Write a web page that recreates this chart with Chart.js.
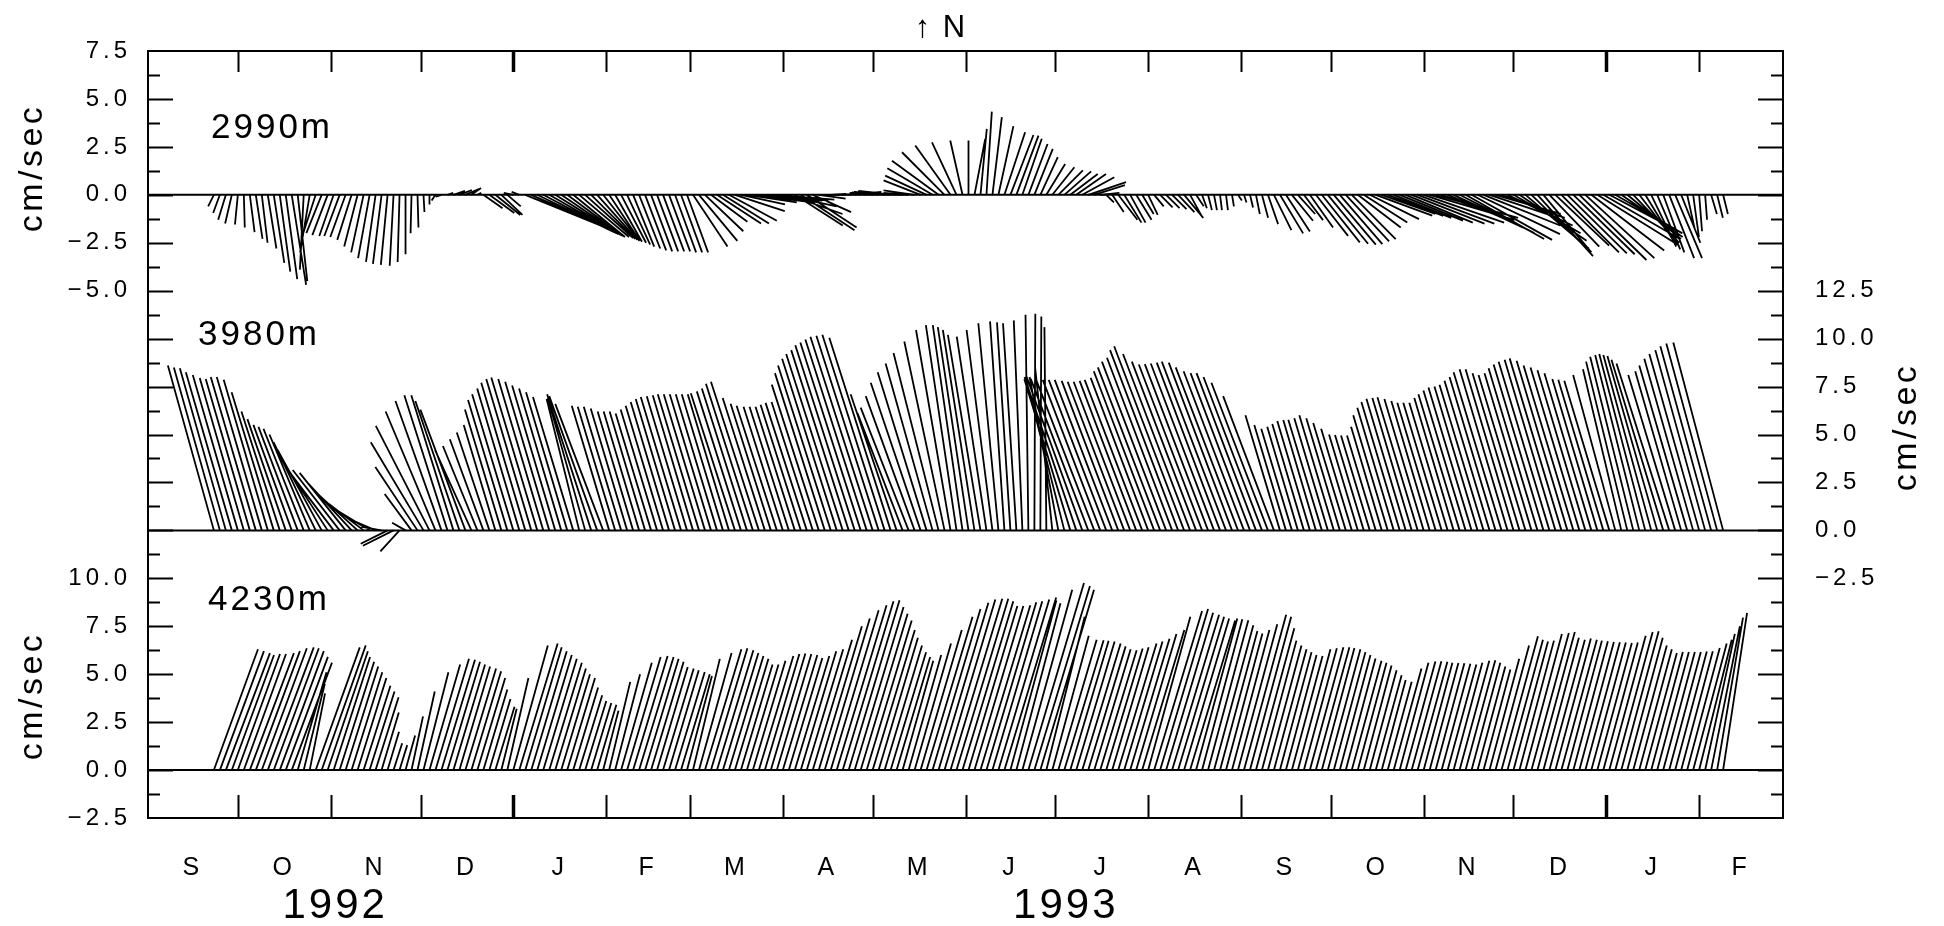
<!DOCTYPE html>
<html>
<head>
<meta charset="utf-8">
<script src="https://cdn.jsdelivr.net/npm/chart.js@4.4.1/dist/chart.umd.min.js"></script>
<style>
  html, body { margin: 0; padding: 0; background: #fff; }
  canvas { display: block; }
</style>
</head>
<body>
<canvas id="chart" width="1944" height="926"></canvas>
<script>
// time axis: days since 1 Sep 1992, one stick every 2 days from 23 Sep 1992
const FIRST_DAY = 22;
const STEP_DAYS = 2;
const AXIS_DAYS = 546; // 1 Sep 1992 .. 1 Mar 1994

// 2990m record, east (u) and north (v) components, cm/s
const u2990 = [
  -0.3,-0.35,-0.4,-0.35,-0.15,0.05,0.25,0.35,0.3,0.45,0.55,0.55,0.6,0.75,0.5,
  -0.2,-0.5,-0.75,-0.8,-0.8,-0.75,-0.8,
  -0.8,-0.75,-0.7,-0.65,-0.6,-0.5,-0.45,-0.35,-0.2,
  -0.1,0.0,-0.05,0.05,0.05,0.0,-0.2,-0.3,0.3,0.6,0.65,
  0.7,0.5,0.2,1.0,1.3,1.3,1.1,0.7,-0.5,-0.4,
  4.3,4.1,3.9,3.7,3.5,3.3,3.1,2.9,2.7,2.6,
  2.5,2.3,2.1,1.9,1.6,1.4,1.3,1.2,1.1,1.1,1.1,1.1,1.1,1.1,1.1,
  1.1,1.1,1.1,
  1.8,2.0,2.0,1.9,2.3,2.4,2.5,2.6,2.3,2.6,2.8,2.9,
  3.0,3.0,3.0,2.8,2.8,2.5,2.8,2.6,2.0,1.4,1.0,
  0.8,1.2,1.5,1.7,0.5,-0.3,-0.8,-1.2,-1.4,
  -1.6,-1.9,-2.0,-1.6,
  -1.3,-1.62,-1.93,-2.16,-2.36,-2.43,-2.22,-1.84,-1.28,-0.64,0.0,0.56,0.33,0.28,0.49,0.78,1.08,1.2,1.15,1.01,1.0,
  0.96,0.91,0.98,1.15,1.28,1.4,1.43,1.55,1.67,1.97,
  1.6,1.0,0.4,0.6,1.0,0.9,0.8,0.8,0.6,0.5,0.5,0.65,0.7,
  0.75,0.85,1.0,0.6,0.4,0.25,0.2,0.15,0.1,0.1,0.1,
  0.2,0.13,0.16,0.2,0.32,0.53,0.91,1.21,1.25,1.1,0.9,1.0,1.21,1.68,1.98,2.1,
  2.19,2.22,2.26,2.29,2.24,2.27,2.57,2.95,
  2.8,2.9,3.0,3.3,3.5,3.8,4.0,4.2,4.4,4.3,3.8,3.7,
  3.6,3.9,4.1,4.2,4.3,4.0,3.6,3.4,3.3,3.4,3.5,3.5,3.3,3.1,2.9,2.5,2.6,2.8,3.0,3.1,
  3.2,3.5,3.6,3.8,4.2,4.0,3.8,3.5,3.2,2.8,2.4,2.0,1.6,1.3,1.2,
  1.1,1.3,1.4,1.0,0.4,0.3,0.15,0.1,0.3,0.3,0.25
];
const v2990 = [
  -0.6,-0.95,-1.3,-1.5,-1.55,-1.7,-1.95,-2.3,-2.5,-2.8,-3.55,-4.0,-4.4,-4.7,-4.5,
  -3.9,-3.0,-2.3,-2.0,-2.1,-2.15,-2.15,
  -2.2,-2.35,-2.7,-3.0,-3.3,-3.5,-3.6,-3.65,-3.7,
  -3.5,-3.1,-2.0,-1.7,-0.9,-0.5,-0.3,-0.1,0.1,0.2,0.25,
  0.3,0.35,0.1,-0.7,-0.95,-1.05,-1.05,-0.6,0.1,0.15,
  -1.75,-1.8,-1.9,-1.95,-2.0,-2.05,-2.1,-2.15,-2.2,-2.2,
  -2.25,-2.3,-2.35,-2.4,-2.4,-2.45,-2.5,-2.6,-2.7,-2.8,-2.9,-2.95,-2.95,-2.95,-2.95,
  -3.0,-3.0,-3.0,
  -2.7,-2.4,-1.9,-1.4,-1.5,-1.5,-1.35,-0.85,-0.5,-0.4,-0.35,-0.3,
  -0.3,-0.3,-0.25,-0.6,-1.0,-1.6,-1.85,-1.7,-0.9,-0.2,0.0,
  0.05,0.05,0.1,0.15,0.1,0.05,0.1,0.1,0.12,
  0.15,0.15,0.2,0.1,
  0.1,0.23,0.75,1.0,1.39,1.78,2.22,2.57,2.74,2.83,2.83,2.92,3.44,4.34,4.05,3.58,3.26,3.12,3.09,2.92,2.65,
  2.4,1.96,1.61,1.44,1.27,1.22,1.09,1.09,0.92,0.66,
  0.5,0.1,-0.4,-0.9,-1.3,-1.45,-1.45,-1.3,-1.0,-1.05,-0.6,-0.65,-0.7,
  -0.75,-0.9,-1.2,-1.1,-0.6,-0.7,-0.8,-0.8,-0.8,-0.8,-0.6,
  -0.3,-0.4,-0.66,-1.0,-1.2,-1.53,-1.84,-2.01,-1.91,-1.35,-1.0,-1.32,-1.7,-2.14,-2.48,-2.55,
  -2.6,-2.57,-2.43,-2.31,-1.7,-1.44,-1.27,-1.09,
  -1.0,-1.1,-1.2,-1.35,-1.45,-1.5,-1.5,-1.45,-1.3,-1.2,-1.4,-1.55,
  -1.7,-2.0,-2.3,-2.35,-2.05,-1.6,-1.2,-1.0,-1.2,-1.6,-2.0,-2.4,-2.8,-3.0,-3.2,-3.0,-2.7,-2.65,-3.0,-3.05,
  -3.1,-3.4,-3.3,-2.9,-2.6,-2.3,-2.0,-2.0,-2.2,-2.3,-2.5,-2.6,-2.6,-2.7,-2.85,
  -3.0,-3.3,-3.3,-2.5,-1.8,-2.2,-1.9,-1.3,-1.0,-1.2,-1.0
];

// 3980m record
const u3980 = [
  -2.4,-2.4,-2.4,-2.4,-2.35,-2.3,-2.3,-2.35,-2.35,-2.3,
  -2.2,-2.0,-2.0,-2.0,-2.05,-2.1,-2.1,-2.2,-2.3,-2.4,-2.5,-2.45,
  -2.4,-2.4,-2.3,-2.1,-1.8,-1.4,-1.1,-1.4,-1.6,-1.0,-0.7,
  -1.4,-2.2,-2.75,-2.8,-2.6,-2.4,-2.25,-2.2,-2.3,-2.35,-1.9,-1.8,-1.75,-1.7,
  -1.65,-1.9,-2.05,-2.15,-2.2,-2.3,-2.35,-2.4,-2.35,-2.3,-2.25,-2.2,-2.15,-2.1,-1.7,-1.95,-2.3,-2.5,-2.5,-1.95,-1.95,
  -1.95,-1.9,-1.85,-1.85,-1.85,-1.85,-1.9,-1.95,-2.0,-2.05,-2.1,-2.1,-2.1,-2.15,-2.15,
  -2.15,-2.15,-2.15,-2.15,
  -2.3,-2.3,-2.35,-2.45,-2.5,-2.2,-2.1,-2.1,-2.05,-2.05,
  -2.05,-2.1,-2.15,-2.15,-2.45,-2.6,-2.75,-2.85,-2.95,-3.0,-3.1,-3.15,-3.2,-3.25,-3.25,-3.25,-3.2,
  -2.4,-2.35,-2.5,-2.55,-2.6,-2.55,-2.45,-2.35,-2.1,-1.8,-1.6,-1.55,-1.6,
  -1.65,-1.7,-1.55,-1.35,-1.05,-0.75,-0.7,-0.7,-0.45,-0.15,0.05,0.05,-0.1,
  -0.9,-1.5,-2.0,-2.4,-2.7,-2.9,-3.0,-3.05,-3.0,-3.0,-3.0,-2.95,-2.95,-2.95,
  -2.95,-3.0,-3.0,-3.15,-3.25,-3.35,-3.4,-3.55,-3.65,-3.5,-3.35,-3.3,-3.3,-3.3,-3.3,-3.35,-3.3,-3.25,-3.15,-3.1,-3.1,-3.05,-2.95,-2.65,
  -1.8,-1.65,-1.6,-1.6,-1.65,-1.7,-1.7,-1.75,-1.75,-1.8,-1.75,-1.7,-1.6,-1.5,-1.5,
  -1.5,-1.5,-1.6,-1.8,-1.9,-2.0,-2.05,-2.05,-2.1,-2.05,-2.0,-2.0,-2.0,-2.0,-2.05,-2.15,-2.2,-2.25,-2.25,-2.3,-2.35,
  -2.4,-2.5,-2.5,-2.5,-2.45,-2.45,-2.45,-2.55,-2.6,-2.65,-2.65,-2.7,-2.65,-2.6,-2.55,-2.5,-2.45,-2.35,-2.35,-2.35,-2.2,
  -2.0,-2.15,-2.25,-2.3,-2.4,-2.5,-2.6,-2.7,-2.75,-2.45,-2.4,-2.5,-2.55,-2.6,-2.6,-2.65,-2.65,-2.6
];
const v3980 = [
  8.6,8.5,8.45,8.25,8.1,7.95,7.9,8.0,8.0,7.85,
  7.2,6.2,5.8,5.5,5.4,5.3,5.0,4.6,4.2,3.7,3.3,3.15,
  3.0,2.6,2.1,1.6,1.1,0.6,0.2,-0.7,-0.8,-1.1,0.4,
  1.9,3.3,4.6,5.45,6.2,6.75,7.05,7.05,6.75,6.3,4.2,4.4,4.75,5.1,
  5.5,6.3,6.8,7.1,7.4,7.7,7.9,7.97,7.9,7.75,7.55,7.4,7.2,6.95,6.85,6.9,7.1,7.0,6.6,6.5,6.45,
  6.45,6.35,6.2,6.2,6.2,6.1,6.3,6.5,6.7,6.85,6.95,7.0,7.05,7.1,7.1,
  7.1,7.1,7.1,7.1,
  7.15,7.25,7.4,7.65,7.75,6.9,6.6,6.5,6.45,6.45,
  6.45,6.55,6.65,6.7,7.6,8.2,8.6,8.95,9.2,9.4,9.65,9.8,9.95,10.1,10.15,10.2,10.05,
  7.1,6.1,6.4,7.0,7.7,8.25,8.7,9.25,9.85,10.45,10.7,10.7,10.6,
  10.45,10.2,10.1,10.45,10.8,10.9,10.85,10.8,10.95,11.25,11.3,11.15,10.6,
  8.5,8.0,7.9,7.9,8.0,8.0,7.9,7.9,7.85,7.85,7.85,7.8,7.75,7.75,
  7.8,7.85,7.95,8.3,8.5,8.8,9.0,9.4,9.6,9.2,8.8,8.65,8.67,8.7,8.75,8.8,8.75,8.5,8.3,8.2,8.2,8.0,7.7,7.0,
  6.0,5.5,5.3,5.4,5.55,5.7,5.75,5.77,5.85,6.0,5.85,5.6,5.3,5.0,4.97,
  4.95,4.95,5.4,6.0,6.4,6.7,6.86,6.9,6.94,6.85,6.75,6.65,6.65,6.65,6.9,7.1,7.3,7.45,7.5,7.6,7.8,
  8.0,8.25,8.4,8.4,8.2,8.1,8.2,8.45,8.65,8.8,8.9,8.97,8.85,8.6,8.5,8.35,8.2,7.9,7.85,7.8,8.1,
  8.4,8.8,9.05,9.15,9.2,9.15,9.1,8.9,8.7,8.1,8.3,8.6,8.95,9.2,9.4,9.6,9.75,9.8
];

// 4230m record
const u4230 = [
  2.3,2.3,2.3,2.2,2.2,2.2,2.3,2.3,2.35,2.4,2.35,2.3,2.2,2.1,1.5,1.1,0.8,
  2.3,2.3,2.1,1.9,1.8,
  1.7,1.6,1.5,1.4,1.3,1.2,0.9,0.6,0.45,0.4,0.5,
  0.6,0.9,1.3,1.6,1.75,1.75,1.7,1.65,1.6,1.6,
  1.55,1.45,1.25,1.1,1.0,0.8,1.1,1.8,2.0,1.9,1.85,1.8,1.75,1.7,1.6,1.5,1.45,1.3,1.2,1.1,1.05,
  1.0,0.8,1.1,1.3,1.6,1.75,1.8,1.8,1.75,1.7,
  1.6,1.6,1.55,1.55,1.5,1.3,1.4,1.7,1.9,1.9,1.9,1.85,1.8,
  1.75,1.65,1.65,1.7,1.8,1.8,1.8,1.8,1.8,1.75,1.8,1.85,1.9,2.05,2.25,2.35,2.5,2.6,2.65,2.65,2.55,2.45,
  2.35,2.2,2.05,1.95,1.85,1.75,1.6,1.7,1.9,2.15,2.4,2.5,2.6,2.65,2.7,2.7,2.65,2.55,2.55,2.6,2.6,2.6,
  2.65,2.7,2.4,2.3,2.6,2.9,2.9,2.8,2.0,1.9,2.0,2.05,2.0,2.0,2.0,1.95,1.9,1.9,1.9,1.9,2.0,2.0,
  2.05,2.1,2.2,2.2,2.5,2.5,2.45,2.45,2.4,2.35,2.35,
  2.15,2.1,2.1,2.05,1.95,1.9,1.95,2.05,2.2,2.15,2.0,1.8,1.75,1.7,1.65,1.6,1.6,1.7,1.72,
  1.75,1.75,1.7,1.7,1.65,1.6,1.55,1.55,1.5,1.45,1.4,1.35,1.25,1.25,1.45,1.5,1.55,1.55,1.55,1.5,1.5,1.5,
  1.5,1.5,1.5,1.55,1.55,1.5,1.45,1.4,1.55,1.75,1.9,1.85,1.8,1.8,1.9,1.95,1.95,1.85,1.85,1.85,1.85,1.8,
  1.8,1.8,1.8,1.8,1.8,1.8,1.9,1.95,1.95,1.85,1.75,1.7,1.65,1.65,1.65,1.65,1.65,1.65,
  1.65,1.7,1.75,1.7,1.55,1.5,1.35,1.25
];
const v4230 = [
  6.3,6.2,6.1,6.0,6.05,6.05,6.1,6.2,6.35,6.4,6.35,6.2,5.9,5.6,5.1,4.5,4.0,
  6.4,6.5,6.2,5.9,5.65,
  5.4,5.1,4.8,4.4,4.1,3.8,3.0,2.0,1.4,1.3,1.8,
  2.8,4.1,5.1,5.5,5.8,5.75,5.65,5.5,5.4,5.3,
  5.15,4.8,4.2,3.7,3.3,3.2,4.8,6.5,6.6,6.4,6.2,6.0,5.8,5.6,5.3,5.0,4.8,4.3,3.9,3.6,3.5,
  3.4,3.1,4.6,5.0,5.6,5.9,5.95,5.9,5.8,5.65,
  5.38,5.3,5.2,5.12,5.0,4.9,5.8,6.1,6.3,6.35,6.25,6.1,5.95,
  5.8,5.5,5.5,5.7,5.95,6.05,6.08,6.05,6.0,5.85,5.95,6.2,6.3,6.8,7.5,7.9,8.33,8.6,8.8,8.85,8.5,8.15,
  7.8,7.3,6.9,6.5,6.15,5.9,5.7,6.0,6.6,7.3,8.0,8.4,8.72,8.9,8.94,8.94,8.8,8.55,8.55,8.6,8.75,8.8,
  8.9,9.0,8.85,8.7,9.4,9.76,9.6,9.4,8.0,7.0,6.8,6.77,6.75,6.7,6.6,6.45,6.3,6.25,6.34,6.4,6.6,6.7,
  6.85,7.1,7.3,8.0,8.3,8.4,8.2,8.1,8.0,7.9,7.8,
  7.9,7.86,7.81,7.55,7.25,7.12,7.3,7.6,8.1,8.0,7.4,6.75,6.5,6.3,6.15,6.0,5.95,6.3,6.35,
  6.4,6.4,6.37,6.3,6.15,6.0,5.82,5.7,5.6,5.45,5.2,4.95,4.7,4.6,5.3,5.6,5.66,5.68,5.65,5.6,5.58,5.57,
  5.55,5.5,5.6,5.7,5.73,5.6,5.4,5.25,5.8,6.5,6.98,6.8,6.7,6.75,7.1,7.15,7.2,6.9,6.8,6.86,6.8,6.75,
  6.72,6.68,6.66,6.65,6.63,6.65,7.0,7.2,7.24,6.9,6.5,6.3,6.1,6.16,6.16,6.16,6.16,6.18,
  6.2,6.37,6.6,6.8,7.1,7.5,7.95,8.2
];

// panel baselines on the shared vertical axis (cm/s units)
const panelNames = ["2990m", "3980m", "4230m"];
const panelOffsets = [30, 12.5, 0];

const monthLabels = ["S","O","N","D","J","F","M","A","M","J","J","A","S","O","N","D","J","F"];
const monthMid = [15,45.5,76,106.5,137.5,167,196.5,227,257.5,288,318.5,349.5,380,410.5,441,471.5,502.5,532];
const monthEdges = [30,61,91,122,153,181,212,242,273,303,334,365,395,426,456,487,518];
const yearEdges = [122,487];
const yearLabels = ["1992","1993"];
const yearLabelDays = [62,306];

const leftTickValues = [37.5,35,32.5,30,27.5,25,10,7.5,5,2.5,0,-2.5];
const leftTickLabels = ["7.5","5.0","2.5","0.0","\u22122.5","\u22125.0","10.0","7.5","5.0","2.5","0.0","\u22122.5"];
const rightTickValues = [25,22.5,20,17.5,15,12.5,10];
const rightTickLabels = ["12.5","10.0","7.5","5.0","2.5","0.0","\u22122.5"];

const DAYS_PER_CMS = 6.4; // stick x-extent: keeps sticks isotropic on the page
const FONT = "'Liberation Sans', 'DejaVu Sans', sans-serif";

function stickPoints(u, v, offset) {
  const pts = [];
  for (let i = 0; i < u.length; i++) {
    const day = FIRST_DAY + STEP_DAYS * i;
    pts.push({ x: day, y: offset });
    pts.push({ x: day + u[i] * DAYS_PER_CMS, y: offset + v[i] });
    pts.push({ x: day, y: null });
  }
  return pts;
}

const series = [[u2990, v2990], [u3980, v3980], [u4230, v4230]];
const datasets = [];
series.forEach(([u, v], k) => {
  datasets.push({
    label: panelNames[k],
    data: stickPoints(u, v, panelOffsets[k]),
    borderColor: "#000",
    borderWidth: 1.8,
    pointRadius: 0,
    spanGaps: false
  });
  datasets.push({
    label: panelNames[k] + " axis",
    data: [{ x: 0, y: panelOffsets[k] }, { x: AXIS_DAYS, y: panelOffsets[k] }],
    borderColor: "#000",
    borderWidth: 2,
    pointRadius: 0
  });
});

const framePlugin = {
  id: "frame",
  beforeDraw(chart) {
    chart.ctx.letterSpacing = "4px";
  },
  afterDatasetsDraw(chart) {
    const { ctx, chartArea: a, scales: { x, y } } = chart;
    ctx.save();
    ctx.strokeStyle = "#000";
    ctx.lineCap = "butt";
    const seg = (x1, y1, x2, y2) => { ctx.beginPath(); ctx.moveTo(x1, y1); ctx.lineTo(x2, y2); ctx.stroke(); };

    // month ticks on top and bottom edges, heavier at new year
    monthEdges.forEach(d => {
      const px = Math.round(x.getPixelForValue(d)) + 0.5;
      ctx.lineWidth = yearEdges.includes(d) ? 3.5 : 2;
      seg(px, a.top, px, a.top + 21);
      seg(px, a.bottom, px, a.bottom - 23);
    });

    // value ticks on both sides every 1.25 cm/s
    ctx.lineWidth = 2;
    for (let k = 1; k < 32; k++) {
      const val = -2.5 + 1.25 * k;
      const py = Math.round(y.getPixelForValue(val)) + 0.5;
      const len = (k % 2 === 0) ? 25 : 12;
      seg(a.left, py, a.left + len, py);
      seg(a.right, py, a.right - len, py);
    }

    ctx.lineWidth = 2;
    ctx.strokeRect(a.left, a.top, a.right - a.left, a.bottom - a.top);
    ctx.restore();
  },
  afterDraw(chart) {
    const { ctx, scales: { x } } = chart;
    ctx.save();
    ctx.fillStyle = "#000";

    // depth labels
    ctx.letterSpacing = "3px";
    ctx.font = "35px " + FONT;
    ctx.textAlign = "left";
    ctx.textBaseline = "alphabetic";
    ctx.fillText(panelNames[0], 211, 138);
    ctx.fillText(panelNames[1], 198, 345);
    ctx.fillText(panelNames[2], 208, 610);

    // north arrow
    ctx.letterSpacing = "2px";
    ctx.font = "31px " + FONT;
    ctx.textAlign = "center";
    ctx.fillText("\u2191 N", 941, 37);

    // years
    ctx.font = "42px " + FONT;
    ctx.letterSpacing = "3px";
    yearLabels.forEach((t, i) => ctx.fillText(t, x.getPixelForValue(yearLabelDays[i]) + 1.5, 918));

    // unit labels
    ctx.font = "34px " + FONT;
    ctx.letterSpacing = "3.5px";
    ctx.textBaseline = "middle";
    [[33, 170], [33, 698], [1907, 429]].forEach(([cx, cy]) => {
      ctx.save();
      ctx.translate(cx, cy);
      ctx.rotate(-Math.PI / 2);
      ctx.fillText("cm/sec", 2, 0);
      ctx.restore();
    });
    ctx.restore();
  }
};

const tickFont = { family: FONT, size: 24 };

new Chart(document.getElementById("chart"), {
  type: "line",
  data: { datasets },
  options: {
    responsive: false,
    animation: false,
    devicePixelRatio: 1,
    layout: { padding: { top: 51, left: 0, right: 0, bottom: 0 } },
    elements: { line: { tension: 0 }, point: { radius: 0 } },
    plugins: { legend: { display: false }, tooltip: { enabled: false } },
    scales: {
      x: {
        type: "linear",
        min: 0,
        max: AXIS_DAYS,
        position: "bottom",
        grid: { display: false },
        border: { display: false },
        afterBuildTicks: s => { s.ticks = monthMid.map(v => ({ value: v })); },
        afterFit: s => { s.height = 108; },
        ticks: {
          autoSkip: false,
          maxRotation: 0,
          padding: 27,
          color: "#000",
          font: { family: FONT, size: 25 },
          callback: (val, i) => monthLabels[i]
        }
      },
      y: {
        type: "linear",
        min: -2.5,
        max: 37.5,
        position: "left",
        grid: { display: false },
        border: { display: false },
        afterBuildTicks: s => { s.ticks = leftTickValues.map(v => ({ value: v })); },
        afterFit: s => { s.width = 148; },
        ticks: {
          padding: 9,
          color: "#000",
          font: tickFont,
          callback: (val, i) => leftTickLabels[i]
        }
      },
      y2: {
        type: "linear",
        min: -2.5,
        max: 37.5,
        position: "right",
        grid: { display: false },
        border: { display: false },
        afterBuildTicks: s => { s.ticks = rightTickValues.map(v => ({ value: v })); },
        afterFit: s => { s.width = 161; },
        ticks: {
          padding: 24,
          color: "#000",
          font: tickFont,
          callback: (val, i) => rightTickLabels[i]
        }
      }
    }
  },
  plugins: [framePlugin]
});
</script>
</body>
</html>
